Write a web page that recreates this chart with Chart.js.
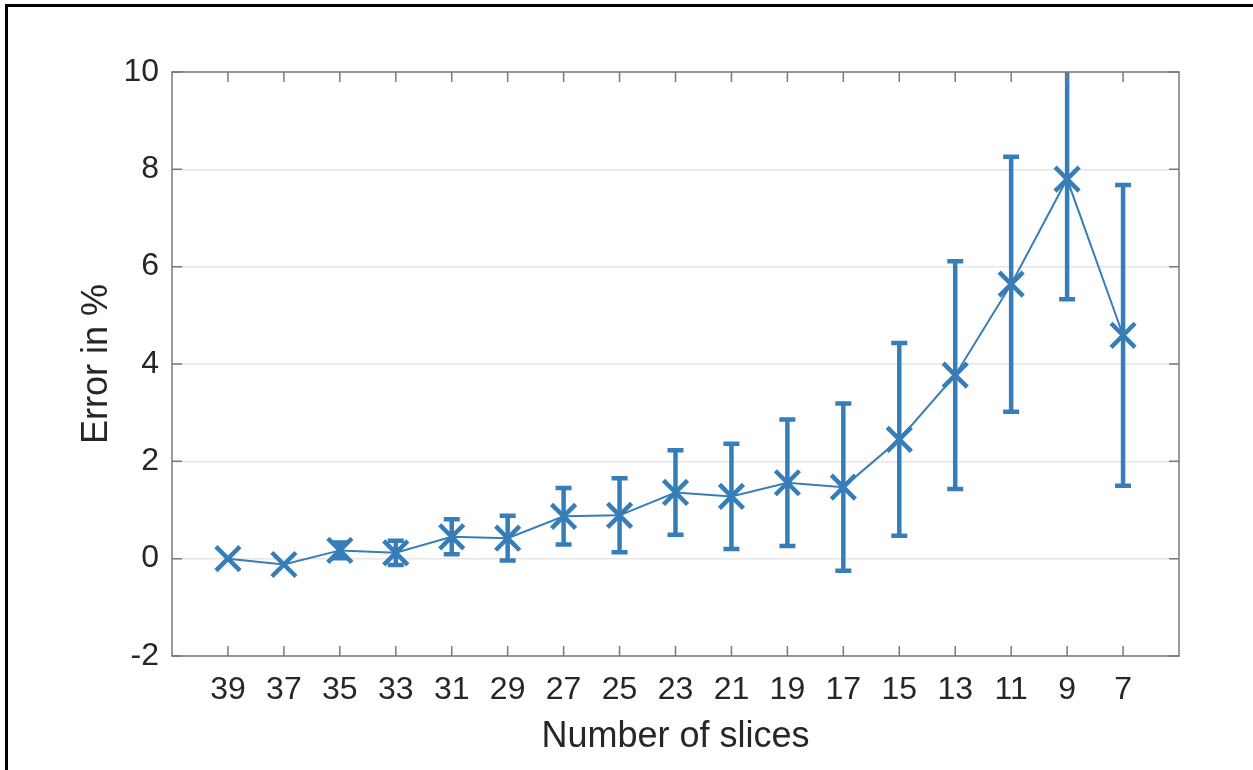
<!DOCTYPE html>
<html>
<head>
<meta charset="utf-8">
<script src="https://cdn.jsdelivr.net/npm/chart.js@4"></script>
<style>
  html, body { margin: 0; padding: 0; background: #fff; }
  #wrap { width: 1253px; height: 770px; position: relative; }
</style>
</head>
<body>
<div id="wrap"><canvas id="c" width="1253" height="770"></canvas></div>
<script>
// Number of slices used in the reconstruction (x axis, descending)
const slices = [39, 37, 35, 33, 31, 29, 27, 25, 23, 21, 19, 17, 15, 13, 11, 9, 7];
// Mean error in percent for each slice count
const meanError = [0.00, -0.12, 0.17, 0.12, 0.45, 0.42, 0.87, 0.89, 1.36, 1.28, 1.56, 1.47, 2.45, 3.77, 5.64, 7.80, 4.59];
// Half-length of the error bar (spread) for each slice count
const errorSpread = [0.00, 0.00, 0.16, 0.25, 0.36, 0.46, 0.58, 0.76, 0.87, 1.08, 1.30, 1.72, 1.98, 2.34, 2.62, 2.47, 3.09];
// Y axis tick values
const yTicks = [-2, 0, 2, 4, 6, 8, 10];

const BLUE = 'rgb(55,126,184)';
const AXIS = '#7a7a7a';
const FONT = "'Liberation Sans', Arial, Helvetica, sans-serif";

const points = slices.map((s, i) => ({ x: s, y: meanError[i] }));

// Vertical error bars with caps, drawn from the scales
const errorBars = {
  id: 'errorBars',
  beforeDatasetsDraw(chart) {
    const { ctx, chartArea, scales: { x, y } } = chart;
    ctx.save();
    ctx.beginPath();
    ctx.rect(chartArea.left, chartArea.top, chartArea.right - chartArea.left, chartArea.bottom - chartArea.top);
    ctx.clip();
    ctx.strokeStyle = BLUE;
    ctx.lineWidth = 4.5;
    ctx.lineCap = 'butt';
    const cap = 8;
    slices.forEach((s, i) => {
      const d = errorSpread[i];
      if (!d) return;
      const px = x.getPixelForValue(s);
      const top = y.getPixelForValue(meanError[i] + d);
      const bot = y.getPixelForValue(meanError[i] - d);
      ctx.beginPath();
      ctx.moveTo(px, top);
      ctx.lineTo(px, bot);
      ctx.moveTo(px - cap, top);
      ctx.lineTo(px + cap, top);
      ctx.moveTo(px - cap, bot);
      ctx.lineTo(px + cap, bot);
      ctx.stroke();
    });
    ctx.restore();
  }
};

// Box around the plot area with inward tick marks on all four sides, plus outer frame
const boxAndTicks = {
  id: 'boxAndTicks',
  beforeDraw(chart) {
    const { ctx, width, height } = chart;
    ctx.save();
    ctx.fillStyle = '#fff';
    ctx.fillRect(0, 0, width, height);
    ctx.fillStyle = '#000';
    ctx.fillRect(5, 4, 3, height - 4);
    ctx.fillRect(5, 4, width - 5, 3);
    ctx.restore();
  },
  afterDraw(chart) {
    const { ctx, chartArea: a, scales: { x, y } } = chart;
    ctx.save();
    ctx.strokeStyle = AXIS;
    ctx.lineWidth = 1.5;
    ctx.strokeRect(a.left, a.top, a.right - a.left, a.bottom - a.top);
    const len = 10;
    ctx.beginPath();
    slices.forEach(s => {
      const px = x.getPixelForValue(s);
      ctx.moveTo(px, a.bottom); ctx.lineTo(px, a.bottom - len);
      ctx.moveTo(px, a.top); ctx.lineTo(px, a.top + len);
    });
    yTicks.forEach(v => {
      const py = y.getPixelForValue(v);
      ctx.moveTo(a.left, py); ctx.lineTo(a.left + len, py);
      ctx.moveTo(a.right, py); ctx.lineTo(a.right - len, py);
    });
    ctx.stroke();
    ctx.restore();
  }
};

new Chart(document.getElementById('c'), {
  type: 'line',
  data: {
    datasets: [{
      data: points,
      borderColor: BLUE,
      borderWidth: 2,
      pointStyle: 'crossRot',
      pointRadius: 17,
      pointHoverRadius: 17,
      pointBorderWidth: 4.5,
      pointBorderColor: BLUE,
      pointBackgroundColor: BLUE,
      tension: 0,
      clip: false
    }]
  },
  options: {
    responsive: false,
    animation: false,
    devicePixelRatio: 1,
    layout: { padding: { top: 72, right: 74, bottom: 0, left: 0 } },
    plugins: { legend: { display: false }, tooltip: { enabled: false } },
    scales: {
      x: {
        type: 'linear',
        reverse: true,
        min: 5,
        max: 41,
        afterFit(scale) { scale.height = 114; },
        afterBuildTicks(scale) { scale.ticks = slices.map(v => ({ value: v })); },
        grid: { display: false, drawTicks: false },
        border: { display: false },
        ticks: {
          autoSkip: false,
          maxRotation: 0,
          padding: 15,
          color: '#262626',
          font: { family: FONT, size: 32 }
        },
        title: {
          display: true,
          text: 'Number of slices',
          color: '#262626',
          font: { family: FONT, size: 36 },
          padding: { top: 0, bottom: 11 }
        }
      },
      y: {
        min: -2,
        max: 10,
        afterFit(scale) { scale.width = 172; },
        afterBuildTicks(scale) { scale.ticks = yTicks.map(v => ({ value: v })); },
        grid: { color: '#e6e6e6', lineWidth: 1.5, drawTicks: false },
        border: { display: false },
        ticks: {
          padding: 13,
          color: '#262626',
          font: { family: FONT, size: 32 }
        },
        title: {
          display: true,
          text: 'Error in %',
          color: '#262626',
          font: { family: FONT, size: 36 },
          padding: { top: 75, bottom: 0 }
        }
      }
    }
  },
  plugins: [errorBars, boxAndTicks]
});
</script>
</body>
</html>
